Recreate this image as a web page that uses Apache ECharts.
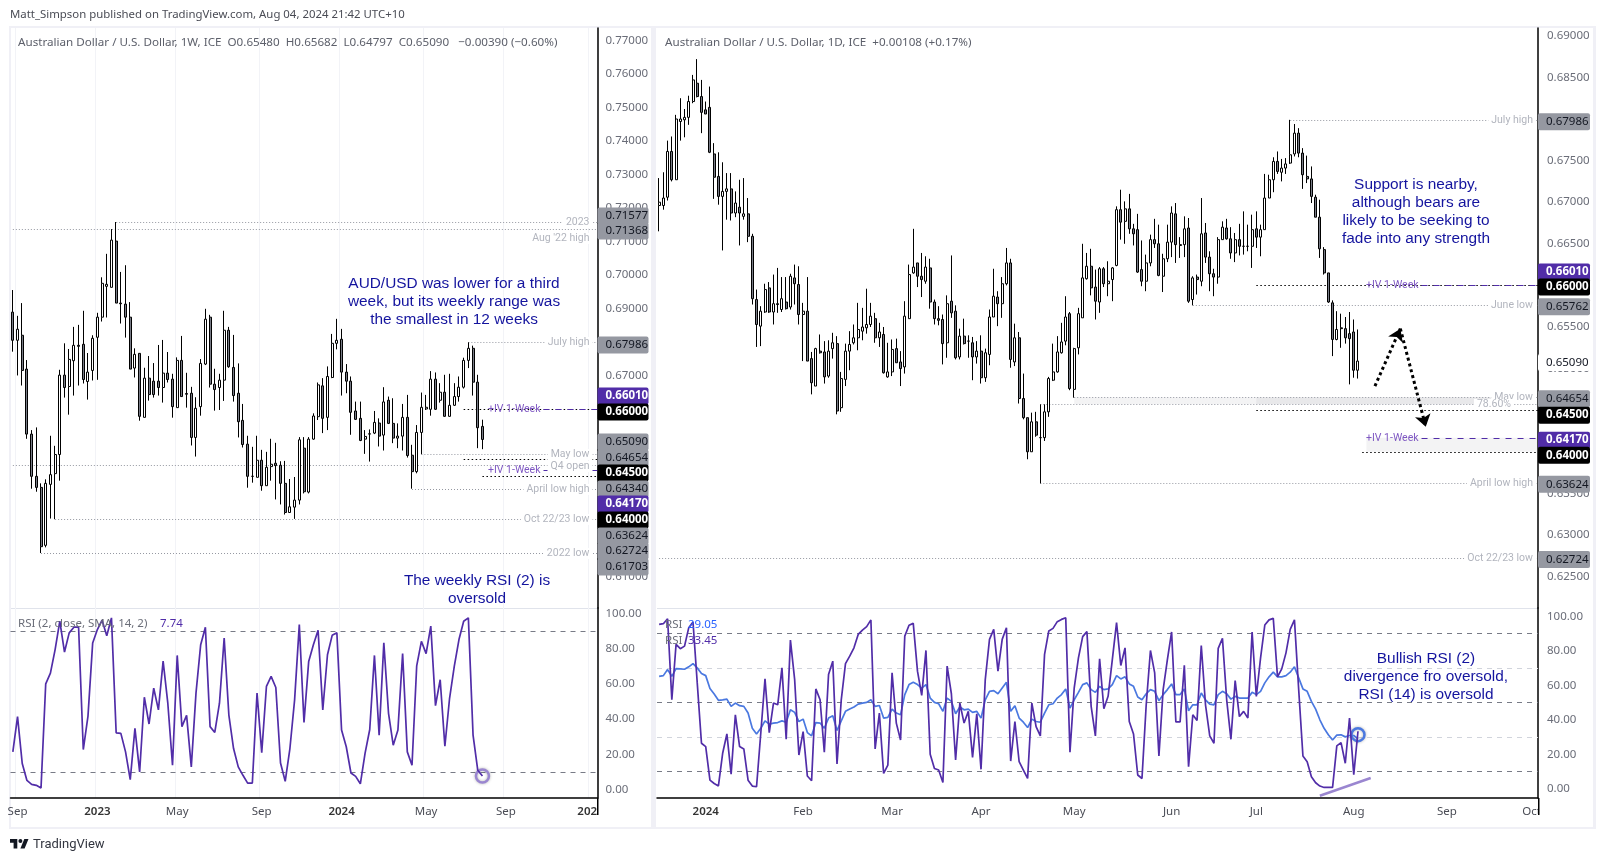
<!DOCTYPE html>
<html>
<head>
<meta charset="utf-8">
<style>html,body{margin:0;padding:0;background:#fff}#chart{width:1604px;height:861px}</style>
<script src="https://cdn.jsdelivr.net/npm/echarts@6/dist/echarts.min.js"></script>
</head>
<body>
<div id="chart"></div>
<script>
// candles are [open, close, low, high] in 1/10000 of a dollar
const weeklyCandles = [
[6889,6805,6771,6955],[6805,6838,6700,6878],[6820,6715,6670,6916],[6719,6525,6511,6746],[6525,6399,6362,6537],
[6399,6366,6353,6545],[6366,6189,6170,6378],[6193,6378,6187,6390],[6375,6404,6273,6520],[6407,6464,6271,6490],
[6464,6701,6386,6717],[6701,6664,6634,6796],[6667,6748,6583,6779],[6744,6790,6640,6845],[6790,6787,6670,6851],
[6793,6688,6676,6893],[6682,6710,6628,6767],[6715,6811,6685,6820],[6814,6874,6687,6887],[6874,6975,6861,6993],
[6966,6972,6873,7063],[6963,7104,6963,7137],[7101,6916,6916,7158],[6916,6914,6855,7009],[6913,6874,6813,7029],
[6874,6719,6719,6919],[6722,6763,6694,6781],[6766,6578,6565,6766],[6575,6692,6575,6723],[6692,6643,6625,6758],
[6683,6643,6634,6737],[6683,6664,6640,6791],[6664,6707,6619,6806],[6707,6688,6679,6770],[6689,6607,6574,6705],
[6604,6745,6604,6754],[6745,6637,6637,6818],[6646,6644,6604,6708],[6647,6515,6491,6666],[6515,6602,6458,6635],
[6607,6736,6580,6749],[6734,6868,6731,6899],[6874,6674,6664,6881],[6674,6658,6595,6720],[6664,6686,6597,6705],
[6686,6835,6624,6893],[6835,6726,6723,6845],[6724,6640,6622,6821],[6647,6562,6515,6736],[6566,6494,6485,6615],
[6495,6399,6365,6520],[6399,6399,6380,6487],[6396,6447,6396,6520],[6447,6371,6356,6478],[6371,6426,6371,6472],
[6428,6435,6386,6511],[6438,6431,6330,6499],[6432,6378,6315,6444],[6378,6291,6285,6445],[6291,6308,6291,6391],
[6307,6328,6272,6397],[6328,6508,6315,6516],[6483,6353,6348,6516],[6352,6510,6348,6516],[6510,6579,6508,6587],
[6577,6672,6567,6679],[6669,6572,6528,6692],[6575,6697,6537,6727],[6694,6796,6692,6824],[6796,6805,6778,6869],
[6808,6710,6640,6839],[6710,6683,6647,6734],[6683,6590,6523,6697],[6594,6569,6567,6622],[6572,6506,6504,6622],
[6510,6518,6466,6537],[6525,6526,6443,6539],[6528,6560,6525,6594],[6558,6519,6488,6572],[6522,6621,6476,6665],
[6626,6557,6555,6637],[6557,6513,6498,6632],[6513,6519,6483,6557],[6519,6575,6476,6615],[6575,6461,6455,6642],
[6462,6413,6362,6493],[6413,6530,6408,6552],[6530,6605,6465,6649],[6600,6605,6597,6642],[6599,6689,6580,6713],
[6689,6599,6597,6709],[6626,6650,6619,6677],[6650,6578,6577,6702],[6578,6611,6577,6705],[6611,6637,6609,6677],
[6637,6665,6622,6697],[6665,6745,6661,6753],[6745,6781,6722,6799],[6781,6680,6640,6789],[6680,6544,6483,6702],
[6548,6509,6480,6568]];

const dailyCandles = [
[6696,6700,6665,6729],[6696,6705,6691,6736],[6706,6761,6702,6774],[6761,6727,6725,6779],[6727,6800,6727,6805],
[6797,6800,6774,6825],[6799,6802,6778,6812],[6802,6821,6793,6828],[6821,6847,6819,6853],[6843,6827,6826,6872],
[6827,6808,6783,6847],[6811,6806,6806,6821],[6814,6760,6759,6839],[6758,6730,6704,6771],[6731,6707,6697,6760],
[6707,6713,6642,6748],[6713,6716,6679,6735],[6716,6687,6678,6735],[6687,6699,6682,6713],[6694,6687,6648,6727],
[6683,6686,6679,6729],[6686,6659,6652,6705],[6659,6584,6577,6662],[6583,6553,6526,6595],[6551,6569,6527,6575],
[6568,6595,6567,6602],[6597,6568,6567,6604],[6568,6578,6553,6613],[6578,6577,6567,6621],[6571,6584,6568,6610],
[6580,6572,6571,6610],[6574,6611,6571,6614],[6609,6602,6577,6625],[6601,6565,6553,6623],[6565,6569,6509,6579],
[6569,6509,6509,6610],[6512,6483,6469,6520],[6479,6524,6479,6525],[6521,6519,6518,6541],[6520,6490,6482,6533],
[6491,6521,6489,6534],[6524,6531,6512,6543],[6530,6449,6445,6539],[6453,6488,6448,6496],[6487,6521,6479,6530],
[6521,6529,6498,6545],[6531,6537,6529,6553],[6537,6547,6522,6579],[6545,6550,6534,6573],[6549,6553,6542,6596],
[6553,6563,6550,6579],[6560,6537,6531,6567],[6537,6544,6526,6555],[6541,6495,6494,6550],[6490,6496,6489,6531],
[6496,6523,6491,6535],[6524,6507,6507,6536],[6508,6500,6479,6521],[6502,6563,6494,6581],[6560,6613,6560,6625],
[6615,6622,6614,6668],[6627,6611,6598,6627],[6611,6607,6586,6639],[6605,6622,6602,6635],[6621,6580,6572,6632],
[6580,6560,6553,6583],[6560,6558,6552,6575],[6559,6530,6505,6565],[6531,6578,6513,6588],[6581,6567,6561,6636],
[6569,6513,6511,6576],[6514,6539,6511,6548],[6539,6530,6529,6560],[6533,6533,6513,6540],[6531,6514,6486,6538],
[6514,6521,6506,6533],[6521,6489,6482,6540],[6489,6519,6484,6524],[6517,6562,6504,6571],[6562,6587,6562,6620],
[6586,6578,6551,6593],[6578,6602,6561,6610],[6602,6627,6600,6645],[6627,6511,6501,6632],[6508,6537,6503,6554],
[6537,6464,6458,6544],[6464,6441,6439,6494],[6441,6400,6391,6441],[6400,6436,6400,6447],[6436,6420,6418,6448],
[6417,6417,6362,6457],[6417,6448,6413,6457],[6448,6488,6442,6490],[6486,6496,6485,6530],[6496,6520,6495,6539],
[6519,6532,6518,6555],[6533,6562,6528,6587],[6566,6476,6474,6568],[6475,6524,6465,6525],[6525,6566,6517,6573],
[6561,6609,6561,6650],[6608,6623,6607,6639],[6623,6597,6588,6644],[6598,6581,6559,6619],[6580,6620,6567,6622],
[6620,6602,6598,6622],[6602,6605,6587,6629],[6607,6621,6581,6622],[6624,6691,6623,6695],[6691,6676,6655,6715],
[6677,6692,6650,6701],[6692,6668,6662,6710],[6668,6662,6648,6674],[6667,6616,6615,6686],[6619,6605,6599,6654],
[6605,6627,6593,6637],[6627,6655,6623,6661],[6655,6650,6645,6680],[6650,6612,6611,6673],[6611,6632,6592,6638],
[6632,6652,6628,6673],[6652,6687,6634,6695],[6686,6649,6627,6699],[6649,6648,6633,6658],[6649,6668,6634,6683],
[6669,6581,6579,6681],[6583,6609,6576,6611],[6610,6607,6589,6613],[6605,6662,6599,6705],[6663,6634,6627,6675],
[6634,6614,6593,6641],[6614,6610,6587,6620],[6610,6655,6602,6658],[6655,6670,6655,6677],[6669,6656,6655,6680],
[6656,6639,6632,6670],[6639,6655,6628,6663],[6655,6647,6636,6674],[6647,6647,6637,6689],[6647,6647,6641,6673],
[6647,6667,6621,6685],[6668,6658,6645,6689],[6658,6667,6635,6673],[6667,6705,6667,6734],[6705,6727,6705,6733],
[6727,6749,6712,6754],[6749,6737,6734,6761],[6736,6741,6725,6752],[6741,6746,6734,6753],[6747,6757,6746,6799],
[6758,6783,6755,6794],[6783,6759,6754,6789],[6759,6733,6716,6765],[6731,6728,6723,6756],[6728,6707,6699,6743],
[6706,6682,6682,6709],[6682,6644,6633,6703],[6643,6615,6613,6646],[6615,6580,6579,6615],[6579,6535,6515,6582],
[6535,6547,6534,6569],[6549,6548,6525,6566],[6548,6537,6530,6562],[6542,6536,6481,6568],[6544,6498,6489,6559],
[6498,6509,6488,6547]];

const weeklyRsi2 = [
21.4,41.4,14.8,5.2,3.0,2.4,0.9,60.0,66.1,79.4,95.5,78.0,88.9,92.1,92.1,22.7,41.7,83.2,90.8,96.1,
87.3,97.4,32.2,31.9,21.4,5.6,34.7,10.0,52.4,37.2,57.5,45.2,72.9,49.0,13.8,76.1,35.7,42.1,12.9,54.7,
82.2,92.1,35.7,32.4,49.0,86.0,42.3,23.3,12.9,8.1,3.7,3.7,54.7,21.0,58.5,64.2,57.9,15.1,4.7,23.3,
50.9,93.6,38.1,72.7,82.2,90.4,45.2,76.5,87.5,88.9,33.8,24.3,9.4,7.5,3.3,20.5,34.1,76.1,30.9,83.2,
43.3,25.2,33.8,77.1,21.4,13.8,70.2,84.1,77.1,92.7,47.6,62.3,24.6,51.8,69.9,85.1,95.5,97.4,30.9,11.0,
7.74];

const dailyRsi2 = [
95.4,95.8,98.7,51.7,83.8,81.3,82.8,93.5,96.8,61.5,26.5,24.6,5.1,3.2,1.8,20.7,31.9,8.6,43.0,24.6,
23.2,5.1,1.7,1.3,32.3,63.8,32.7,49.8,48.8,70.2,28.8,86.3,63.4,19.7,33.3,7.5,4.8,58.0,51.7,21.3,
66.3,74.1,14.5,51.7,72.7,77.0,81.8,89.6,92.1,94.1,98.0,23.2,44.0,9.0,13.9,67.3,38.2,28.4,88.6,94.9,
96.0,68.3,54.3,80.3,20.1,11.9,11.0,3.8,71.2,55.2,16.8,49.8,38.2,45.0,18.3,43.6,11.4,63.4,86.7,92.5,
68.3,86.7,93.5,16.2,39.1,15.8,11.0,6.1,49.8,36.2,30.8,78.0,91.6,93.1,97.0,98.3,99.3,21.3,58.5,76.0,
88.3,91.2,47.9,30.8,75.4,46.5,53.7,75.0,96.4,71.6,81.8,39.1,31.9,8.1,6.1,48.8,80.3,67.3,19.1,57.6,
75.0,91.0,38.9,38.9,71.7,12.9,43.0,39.7,83.2,48.8,30.8,26.5,81.5,87.3,51.7,28.8,62.8,42.0,45.0,41.1,
91.0,53.7,76.0,95.0,98.0,98.9,65.0,69.6,78.9,92.5,98.0,57.6,19.1,15.8,7.1,3.6,1.7,0.9,0.9,0.9,
25.0,26.9,14.9,41.1,8.3,33.45];

const dailyRsi14 = [
65.3,65.7,69.2,65.3,69.8,69.6,69.4,70.8,72.7,70.2,66.9,65.7,58.2,55.0,51.4,51.7,52.1,47.9,49.8,48.3,
47.9,44.0,35.2,31.9,35.2,39.5,37.6,38.2,38.5,39.5,38.7,45.9,44.4,39.1,40.5,32.7,30.8,38.5,38.2,35.2,
41.1,42.4,33.9,39.5,45.0,46.3,47.5,49.2,49.8,50.2,51.7,47.9,48.4,41.1,41.5,46.3,44.0,43.0,54.7,60.5,
61.8,60.5,58.5,60.5,52.7,50.2,49.4,45.0,52.7,50.8,43.6,47.5,45.9,46.3,44.4,45.0,41.1,51.7,56.6,57.0,
55.2,58.5,61.8,45.0,48.3,41.1,38.7,35.6,40.5,39.1,38.7,44.0,48.8,49.4,52.7,54.7,58.0,46.9,51.7,56.0,
60.5,61.5,57.6,56.0,59.5,57.6,58.0,60.5,65.7,63.8,65.0,60.9,59.5,53.3,51.7,55.2,57.6,56.6,51.2,54.7,
57.6,60.9,54.7,54.7,58.0,45.3,48.8,48.8,55.6,51.7,49.2,48.8,54.7,56.6,55.2,52.1,53.7,52.7,52.7,52.7,
56.0,54.7,56.6,61.5,65.0,67.7,65.0,65.0,65.7,67.7,70.8,64.4,58.0,56.6,50.8,46.3,40.1,35.2,31.4,28.4,
31.2,31.4,30.2,31.0,31.0,29.05];

// x axis
const weeklySlots = 125, dailySlots = 208;
const weeklyTickPos = [1,18,35,53,70,88,105,123];
const weeklyTickText = ['Sep','2023','May','Sep','2024','May','Sep','2025'];
const dailyTickPos = [11,34,55,76,98,121,141,164,186,206];
const dailyTickText = ['2024','Feb','Mar','Apr','May','Jun','Jul','Aug','Sep','Oct'];

// y axis
const weeklyPriceTicks = [0.61,0.62,0.63,0.64,0.65,0.66,0.67,0.68,0.69,0.70,0.71,0.72,0.73,0.74,0.75,0.76,0.77];
const dailyPriceTicks = [0.625,0.63,0.635,0.64,0.645,0.65,0.655,0.66,0.665,0.67,0.675,0.68,0.685,0.69];
const rsiTicks = [0,20,40,60,80,100];

// horizontal levels: [first candle index, price, caption]
const weeklyLevels = [[22,0.71577,'2023'],[0,0.71368,"Aug '22 high"],[97,0.67986,'July high'],[87,0.64654,'May low'],
  [0,0.6434,'Q4 open'],[85,0.63624,'April low high'],[9,0.62724,'Oct 22/23 low'],[6,0.61703,'2022 low']];
const dailyLevels = [[149,0.67986,'July high'],[126,0.65762,'June low'],[98,0.64654,'May low'],[90,0.6457,'78.60%'],
  [90,0.63624,'April low high'],[0,0.62724,'Oct 22/23 low']];
const weeklyRound = [[96,0.66],[96,0.645],[100,0.64]];
const dailyRound = [[141,0.66],[141,0.645],[166,0.64]];
const weeklyIv = [[113,0.6601],[113,0.6417]];
const dailyIv = [[180,0.6601],[180,0.6417]];
// shaded zones: [from index, to index, upper price, lower price]
const dailyZones = [[98,197,0.64654,0.6457],[141,197,0.64654,0.6457],[167,208,0.6417,0.64]];

// price tags on the axis
const weeklyTags = [0.71577,0.71368,0.67986,0.6601,0.66,0.6509,0.64654,0.645,0.6434,0.6417,0.64,0.63624,0.62724,0.61703];
const weeklyTagKind = ['g','g','g','p','k','g','g','k','g','p','k','g','g','g'];
const weeklyTagNudge = [-7,1,1.5,-13.7,2,1.5,3,12.75,23.4,32.7,43,46.4,31.2,13];
const dailyTags = [0.67986,0.6601,0.66,0.65762,0.6509,0.64654,0.645,0.6417,0.64,0.63624,0.62724];
const dailyTagKind = ['g','p','k','g','w','g','k','p','k','g','g'];
const dailyTagNudge = [0.5,-13.6,0.6,0.5,0.5,0.5,4,1.5,2.5,0.3,0.7];

const sans = '"Noto Sans", "Open Sans", sans-serif';
const narrow = 'Roboto, "Noto Sans", sans-serif';
const grey = '#787b86', purple = '#512da8', blue = '#4a78e0', mutedText = '#b2b5be';
const tagStyle = {
  g: {bg: '#9598a1', fg: '#131722', weight: 400},
  p: {bg: purple, fg: '#fff', weight: 700},
  k: {bg: '#000', fg: '#fff', weight: 700},
  w: {bg: '#fff', fg: '#131722', weight: 400}
};
const captionShift = {"Aug '22 high": [0, 9], '78.60%': [-22, 0], 'Q4 open': [0, 1]};

function toPrice(rows) {
  return rows.map(r => r.map(v => v / 10000));
}

function slots(total, pos, text) {
  const out = new Array(total).fill('');
  pos.forEach((p, i) => { out[p] = text[i]; });
  return out;
}

function levelSeries(gi, rows, opt) {
  const captionGap = gi === 0 ? 5 : 2;
  return {
    type: 'custom', coordinateSystem: 'cartesian2d', xAxisIndex: gi, yAxisIndex: gi, silent: true, z: opt.z || 3,
    encode: {x: 0, y: 1},
    data: rows.map(r => [r[0], r[1]]),
    renderItem(params, api) {
      const r = rows[params.dataIndex];
      const p = api.coord([r[0], r[1]]);
      const end = params.coordSys.x + params.coordSys.width;
      const y = Math.round(p[1]) + 0.5;
      const kids = [{
        type: 'line', shape: {x1: p[0], y1: y, x2: end, y2: y},
        style: {stroke: opt.color, lineWidth: 1, lineDash: opt.dash}
      }];
      if (r[2]) {
        const s = captionShift[r[2]] || [0, 0];
        kids.push({type: 'text', z2: 5, style: {
          text: r[2], x: end - captionGap + s[0], y: y + s[1], align: 'right', verticalAlign: 'middle',
          fill: mutedText, font: '10.5px ' + narrow, backgroundColor: '#fff', padding: [0, 3, 0, 3]
        }});
      }
      if (opt.iv) {
        kids.push({type: 'text', z2: 5, style: {
          text: '+IV 1-Week', x: p[0] - 3, y: y, align: 'right', verticalAlign: 'middle',
          fill: '#7e57c2', font: '10.5px ' + narrow
        }});
      }
      return {type: 'group', children: kids};
    }
  };
}

function zoneSeries(gi, rows) {
  return {
    type: 'custom', coordinateSystem: 'cartesian2d', xAxisIndex: gi, yAxisIndex: gi, silent: true, z: 1,
    encode: {x: 0, y: 2},
    data: rows,
    renderItem(params, api) {
      const a = api.coord([api.value(0), api.value(2)]);
      const b = api.coord([api.value(1), api.value(3)]);
      return {type: 'rect', shape: {x: a[0], y: a[1], width: b[0] - a[0], height: b[1] - a[1]},
        style: {fill: 'rgba(120,123,134,0.09)'}};
    }
  };
}

function tagSeries(gi, prices, kinds, nudges) {
  return {
    type: 'custom', coordinateSystem: 'cartesian2d', xAxisIndex: gi, yAxisIndex: gi, silent: true, z: 20,
    encode: {y: 1},
    data: prices.map(p => [0, p]),
    renderItem(params, api) {
      const i = params.dataIndex;
      const st = tagStyle[kinds[i]];
      const c = api.coord([0, prices[i]]);
      const x = params.coordSys.x + params.coordSys.width;
      const y = c[1] + nudges[i] + 1;
      return {type: 'group', children: [
        {type: 'rect', shape: {x: x, y: y - 8.5, width: gi === 0 ? 51 : 52, height: 17, r: 2}, style: {fill: st.bg}},
        {type: 'text', z2: 5, style: {
          text: prices[i].toFixed(5), x: x + 8, y: y, verticalAlign: 'middle', align: 'left',
          fill: st.fg, font: st.weight + ' 11.5px ' + sans
        }}
      ]};
    }
  };
}

function candleSeries(gi, rows, extra) {
  return Object.assign({
    type: 'candlestick', xAxisIndex: gi, yAxisIndex: gi, barWidth: 2.5, z: 5,
    data: toPrice(rows),
    itemStyle: {color: '#fff', color0: grey, borderColor: '#000', borderColor0: '#000', borderWidth: 1}
  }, extra);
}

function rsiSeries(gi, values, color, extra) {
  return Object.assign({
    type: 'line', xAxisIndex: gi, yAxisIndex: gi, data: values, showSymbol: false, symbol: 'none', z: 5,
    lineStyle: {color: color, width: 1.7}
  }, extra);
}

function rsiGuides(darkLevels, lightLevels) {
  return {
    silent: true, symbol: 'none', label: {show: false},
    data: darkLevels.map(v => ({yAxis: v, lineStyle: {color: grey, type: [5, 5], width: 1}}))
      .concat(lightLevels.map(v => ({yAxis: v, lineStyle: {color: '#d1d4dc', type: [5, 5], width: 1}})))
  };
}

function ring(coord, color) {
  return {
    silent: true, symbol: 'circle', symbolSize: 13, label: {show: false},
    data: [{coord: coord}],
    itemStyle: {color: 'rgba(255,255,255,0)', borderColor: color, borderWidth: 2.5, shadowColor: 'rgba(0,0,0,0.3)', shadowBlur: 3}
  };
}

function xAxisOf(gi, cats, pos, showLabel, gridLines) {
  const ticks = new Set(pos);
  return {
    type: 'category', gridIndex: gi, data: cats, boundaryGap: true,
    axisLine: {show: showLabel, onZero: false, lineStyle: {color: '#000', width: 1.5}},
    axisTick: {show: false, alignWithLabel: true},
    splitLine: {show: gridLines, interval: i => ticks.has(i), lineStyle: {color: '#f2f3f7', width: 1}},
    axisLabel: {
      show: showLabel, interval: i => ticks.has(i), margin: 8, color: '#4a4c55', fontFamily: sans, fontSize: 11.5,
      formatter: v => /^\d{4}$/.test(v) ? '{y|' + v + '}' : v,
      rich: {y: {fontWeight: 600, color: '#333', fontFamily: sans, fontSize: 11.5}},
      hideOverlap: false
    }
  };
}

function yAxisOf(gi, min, max, ticks, digits, margin, drop) {
  return {
    type: 'value', gridIndex: gi, position: 'right', min: min, max: max, scale: true,
    axisLine: {show: true, onZero: false, lineStyle: {color: '#000', width: 1.5}},
    axisTick: {show: false},
    splitLine: {show: false},
    axisLabel: {
      customValues: ticks, margin: margin, color: '#6a6d78', fontFamily: sans, fontSize: 11.5,
      padding: [drop, 0, 0, 0],
      formatter: v => v.toFixed(digits)
    }
  };
}

const weeklyCats = slots(weeklySlots, weeklyTickPos, weeklyTickText);
const dailyCats = slots(dailySlots, dailyTickPos, dailyTickText);

function txt(x, y, text, fill, extra) {
  return {type: 'text', x: x, y: y, z: 60, silent: true, style: Object.assign({
    text: text, fill: fill, font: '11.5px ' + sans, verticalAlign: 'middle'
  }, extra)};
}

function note(x, y, text) {
  return txt(x, y, text, '#14149e', {font: '15.4px "Liberation Sans", Arial, sans-serif', align: 'center', lineHeight: 18});
}

function box(x, y, w, h, fill, z) {
  return {type: 'rect', z: z, silent: true, shape: {x: x, y: y, width: w, height: h}, style: {fill: fill}};
}

function logoPart(points) {
  return {type: 'polygon', z: 60, silent: true, shape: {points: points}, style: {fill: '#131722'}};
}

const frame = '#f0f0f6';
const graphics = [
  box(9, 26, 1587, 2, frame, 0), box(9, 827, 1587, 2, frame, 0),
  box(9, 26, 2, 803, frame, 0), box(651, 26, 5, 803, frame, 0), box(1593, 26, 3, 803, frame, 0),
  box(11, 608, 586, 1, '#e0e3eb', 0), box(657, 608, 881, 1, '#e0e3eb', 0),
  // the time axis labels run under the price column and are cut there
  box(598, 800, 53, 26, '#fff', 50), box(1539, 800, 54, 26, '#fff', 50),
  box(597, 798, 1.5, 17, '#000', 51), box(1538, 798, 1.5, 17, '#000', 51),
  txt(10, 15, 'Matt_Simpson published on TradingView.com, Aug 04, 2024 21:42 UTC+10', '#4a4c55', {font: '11.4px ' + sans}),
  txt(18, 43, 'Australian Dollar / U.S. Dollar, 1W, ICE  O0.65480  H0.65682  L0.64797  C0.65090   \u22120.00390 (\u22120.60%)', '#5d606b', {font: '11.65px ' + sans}),
  txt(665, 43, 'Australian Dollar / U.S. Dollar, 1D, ICE  +0.00108 (+0.17%)', '#5d606b', {font: '11.65px ' + sans}),
  txt(18, 624, 'RSI (2, close, SMA, 14, 2)', '#6a6d78'),
  txt(160, 624, '7.74', purple),
  txt(665, 625, 'RSI', '#6a6d78'), txt(688, 625, '29.05', '#2962ff'),
  txt(665, 641, 'RSI', '#6a6d78'), txt(688, 641, '33.45', purple),
  note(454, 302, 'AUD/USD was lower for a third\nweek, but its weekly range was\nthe smallest in 12 weeks'),
  note(477, 590, 'The weekly RSI (2) is\noversold'),
  note(1416, 212, 'Support is nearby,\nalthough bears are\nlikely to be seeking to\nfade into any strength'),
  note(1426, 677, 'Bullish RSI (2)\ndivergence fro oversold,\nRSI (14) is oversold'),
  logoPart([[10,839],[17.3,839],[17.3,848.4],[13.6,848.4],[13.6,842.7],[10,842.7]]),
  logoPart([[20.4,848.4],[24.3,839],[28.5,839],[24.6,848.4]]),
  {type: 'circle', z: 60, silent: true, shape: {cx: 20.4, cy: 841, r: 2}, style: {fill: '#131722'}},
  txt(33, 845, 'TradingView', '#333640', {font: '400 13px Roboto, sans-serif'})
];

const chart = echarts.init(document.getElementById('chart'), null, {width: 1604, height: 861});

chart.setOption({
  animation: false,
  backgroundColor: '#fff',
  tooltip: {show: false},
  graphic: graphics,
  grid: [
    {left: 10.5, top: 28, width: 587, height: 580},
    {left: 10.5, top: 608, width: 587, height: 190},
    {left: 657, top: 28, width: 881, height: 580},
    {left: 657, top: 608, width: 881, height: 190}
  ],
  xAxis: [
    xAxisOf(0, weeklyCats, weeklyTickPos, false, true),
    xAxisOf(1, weeklyCats, weeklyTickPos, true, true),
    xAxisOf(2, dailyCats, dailyTickPos, false, false),
    xAxisOf(3, dailyCats, dailyTickPos, true, false)
  ],
  yAxis: [
    yAxisOf(0, 0.6006, 0.7737, weeklyPriceTicks, 5, 8, 4),
    yAxisOf(1, -4.77, 103, rsiTicks, 2, 8, 0),
    yAxisOf(2, 0.62122, 0.69094, dailyPriceTicks, 5, 9, 2),
    yAxisOf(3, -5.22, 104.9, rsiTicks, 2, 9, 2)
  ],
  series: [
    candleSeries(0, weeklyCandles),
    levelSeries(0, weeklyLevels, {color: '#9598a1', dash: [1, 2]}),
    levelSeries(0, weeklyRound, {color: '#000', dash: [1.5, 2.5]}),
    levelSeries(0, weeklyIv, {color: purple, dash: [6, 6], iv: true}),
    tagSeries(0, weeklyTags, weeklyTagKind, weeklyTagNudge),
    rsiSeries(1, weeklyRsi2, purple, {
      markLine: rsiGuides([90, 10], []),
      markPoint: ring([100, 7.74], '#9a86d0')
    }),
    zoneSeries(2, dailyZones),
    candleSeries(2, dailyCandles, {
      markLine: {
        silent: true, symbol: ['none', 'arrow'], symbolSize: 12, label: {show: false},
        lineStyle: {color: '#000', type: [3, 3], width: 3},
        data: [
          [{coord: [169, 0.6479]}, {coord: [175, 0.6548]}],
          [{coord: [175, 0.6548]}, {coord: [181, 0.6430]}]
        ]
      }
    }),
    levelSeries(2, dailyLevels, {color: '#9598a1', dash: [1, 2]}),
    levelSeries(2, dailyRound, {color: '#000', dash: [1.5, 2.5]}),
    levelSeries(2, dailyIv, {color: purple, dash: [6, 6], iv: true}),
    tagSeries(2, dailyTags, dailyTagKind, dailyTagNudge),
    rsiSeries(3, dailyRsi14, blue),
    rsiSeries(3, dailyRsi2, purple, {
      markLine: rsiGuides([90, 50, 10], [70, 30])
    }),
    {
      type: 'line', xAxisIndex: 3, yAxisIndex: 3, data: [], z: 6,
      markPoint: ring([165, 31.5], blue),
      markLine: {
        silent: true, symbol: 'none', label: {show: false},
        lineStyle: {color: '#9a86d0', type: 'solid', width: 2.5},
        data: [[{coord: [156, -3.9]}, {coord: [168, 6.4]}]]
      }
    }
  ]
});
</script>
</body>
</html>
